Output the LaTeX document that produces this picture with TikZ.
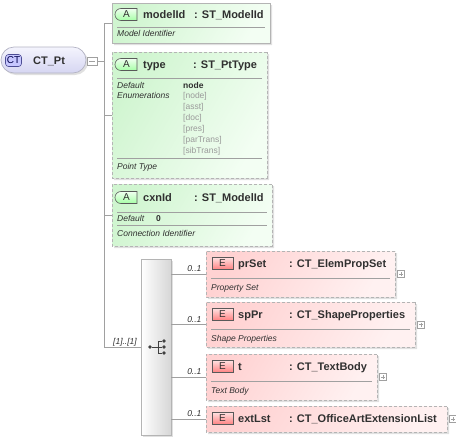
\documentclass[tikz,border=0pt]{standalone}
\usepackage{fontspec}
\setmainfont{Liberation Sans}
\usepackage{tikz}
\usetikzlibrary{calc, positioning, shapes.misc, shadows}

\definecolor{linegray}{HTML}{A0A0A0}
\definecolor{boxgray}{HTML}{B4B4B4}
\definecolor{textdark}{HTML}{303030}
\definecolor{enumgray}{HTML}{9A9A9A}
\definecolor{attrdark}{HTML}{D0F5D0}
\definecolor{attrlight}{HTML}{F3FEF3}
\definecolor{elemdark}{HTML}{FFD2D2}
\definecolor{elemlight}{HTML}{FFF1F1}
\definecolor{rootdark}{HTML}{D6D6F2}
\definecolor{rootlight}{HTML}{F4F4FD}

\newcommand{\hdfont}{\fontsize{11}{13}\selectfont\bfseries}
\newcommand{\docfont}{\fontsize{8.5}{10}\selectfont\itshape}
\newcommand{\enumfont}{\fontsize{8.5}{10}\selectfont}
\newcommand{\badgefont}{\fontsize{10}{11}\selectfont}

\tikzstyle{conn}=[draw=linegray, line width=0.7pt]
\tikzstyle{sepline}=[draw=linegray, line width=0.6pt]
\tikzstyle{shadowed}=[drop shadow={shadow xshift=2pt, shadow yshift=-2pt, fill=black, opacity=0.12}]
\tikzstyle{chambox}=[chamfered rectangle, chamfered rectangle corners={north west, south west},
  chamfered rectangle xsep=5pt, chamfered rectangle ysep=5pt, inner sep=0pt,
  draw=boxgray, line width=0.7pt, dash pattern=on 3pt off 2pt, shadowed]
\tikzstyle{attrbox}=[chambox, left color=attrdark, right color=attrlight, shading angle=60]
\tikzstyle{elembox}=[chambox, left color=elemdark, right color=elemlight, shading angle=60]
\tikzstyle{rootbox}=[rounded rectangle, draw=rootdark!60!gray, line width=0.7pt, inner sep=0pt,
  top color=rootlight, bottom color=rootdark, minimum width=85pt, minimum height=26pt, shadowed]
\tikzstyle{compbox}=[rectangle, draw=boxgray, line width=0.7pt, inner sep=0pt,
  left color=white, right color=black!16, minimum width=30pt, minimum height=176pt, shadowed]
\tikzstyle{ctbadge}=[rectangle, rounded corners=3pt, draw=black!60!blue!70, line width=0.6pt,
  fill=blue!22, text=black!70!blue, font=\badgefont, inner sep=0pt, minimum width=16pt, minimum height=12pt]
\tikzstyle{abadge}=[rounded rectangle, rounded rectangle right arc=none, draw=black!65, line width=0.6pt,
  top color=green!6, bottom color=green!35!white, text=textdark, font=\badgefont, inner sep=0pt,
  minimum width=22pt, minimum height=12pt]
\tikzstyle{ebadge}=[rectangle, draw=black!65, line width=0.6pt, top color=red!12, bottom color=red!50!white,
  text=textdark, font=\badgefont, inner sep=0pt, minimum width=21pt, minimum height=12pt]
\tikzstyle{hd}=[font=\hdfont, text=textdark, inner sep=0pt, anchor=base west]
\tikzstyle{doc}=[font=\docfont, text=textdark, inner sep=0pt, anchor=base west]
\tikzstyle{enum}=[font=\enumfont, text=enumgray, inner sep=0pt, anchor=base west]
\tikzstyle{mult}=[font=\docfont, text=textdark, inner sep=0pt, anchor=base east]
\tikzstyle{plusbox}=[rectangle, draw=linegray, fill=white, line width=0.5pt, inner sep=0pt,
  minimum size=7pt, path picture={
    \draw[linegray, line width=0.5pt] ([yshift=-1.5pt]path picture bounding box.north) -- ([yshift=1.5pt]path picture bounding box.south);
    \draw[linegray, line width=0.5pt] ([xshift=1.5pt]path picture bounding box.west) -- ([xshift=-1.5pt]path picture bounding box.east);}]
\tikzstyle{minusbox}=[rectangle, draw=linegray, fill=white, line width=0.5pt, inner sep=0pt,
  minimum width=10pt, minimum height=8pt, path picture={
    \draw[linegray, line width=0.5pt] ([xshift=2pt]path picture bounding box.west) -- ([xshift=-2pt]path picture bounding box.east);}]
\tikzstyle{seqdot}=[circle, fill=black!75, inner sep=0pt, minimum size=3.6pt]

\begin{document}
\begin{tikzpicture}[x=1pt, y=-1pt]
\useasboundingbox (0,0) rectangle (456,440);

% root element
\node[rootbox] (ctpt) at (43.5,60) {};
\node[ctbadge] (ctbadge) at (13.5,60.5) {CT};
\node[hd] (ctname) at (33,64) {CT\_Pt};
\node[minusbox] (fold) at (92,61) {};
\coordinate (spine) at (104,61);

% attributes
\node[attrbox, solid, minimum width=158pt, minimum height=40pt] (modelid) at (191,23) {};
\node[abadge] (modelidA) at (126.5,14.5) {A};
\node[hd] (modelidname) at (143,18) {modelId};
\node[hd] (modelidtype) at (194,18) {: ST\_ModelId};
\draw[sepline] (117,27) -- (265,27);
\node[doc] (modeliddoc) at (117,36) {Model Identifier};

\node[attrbox, minimum width=155pt, minimum height=126pt] (type) at (189.5,115) {};
\node[abadge] (typeA) at (126.5,64.5) {A};
\node[hd] (typename) at (143,68) {type};
\node[hd] (typetype) at (193,68) {: ST\_PtType};
\draw[sepline] (117,78) -- (262,78);
\node[doc] (typedefault) at (117,88) {Default};
\node[enum, text=textdark, font=\enumfont\bfseries] (typedefval) at (183,88) {node};
\node[doc] (typeenum) at (117,98) {Enumerations};
\foreach \v [count=\i from 0] in {node,asst,doc,pres,parTrans,sibTrans}{
\node[enum] (typeenum\i) at (183,98+11*\i) {[\v]};
}
\draw[sepline] (117,158) -- (262,158);
\node[doc] (typedoc) at (117,169) {Point Type};

\node[attrbox, minimum width=160pt, minimum height=62pt] (cxnid) at (192,215) {};
\node[abadge] (cxnidA) at (126.5,197.5) {A};
\node[hd] (cxnidname) at (143,201) {cxnId};
\node[hd] (cxnidtype) at (194,201) {: ST\_ModelId};
\draw[sepline] (117,212) -- (267,212);
\node[doc] (cxniddefault) at (117,221) {Default};
\node[enum, text=textdark, font=\enumfont\bfseries] (cxniddefval) at (156,221) {0};
\draw[sepline] (117,225) -- (267,225);
\node[doc] (cxniddoc) at (117,236) {Connection Identifier};

% sequence compositor
\node[compbox] (comp) at (156,347) {};
\node[seqdot] (sq0) at (150,347) {};
\node[seqdot] (sq1) at (164,341) {};
\node[seqdot] (sq2) at (164,347) {};
\node[seqdot] (sq3) at (164,353) {};
\coordinate (sqbar) at (158,347);
\draw[black!75, line width=0.7pt] (sq0) -- (sq2);
\draw[black!75, line width=0.7pt] (sq1 -| sqbar) -- (sq1);
\draw[black!75, line width=0.7pt] (sq3 -| sqbar) -- (sq3);
\draw[black!75, line width=0.7pt] (sq1 -| sqbar) -- (sq3 -| sqbar);

% child elements
\node[elembox, minimum width=189pt, minimum height=46pt] (prset) at (300.5,274) {};
\node[ebadge] (prsetE) at (222.5,263.5) {E};
\node[hd] (prsetname) at (238,267) {prSet};
\node[hd] (prsettype) at (289,267) {: CT\_ElemPropSet};
\draw[sepline] (211,278) -- (390,278);
\node[doc] (prsetdoc) at (211,290) {Property Set};
\node[plusbox, right=2pt of prset] (prsetplus) {};

\node[elembox, minimum width=209pt, minimum height=45pt] (sppr) at (310.5,324.5) {};
\node[ebadge] (spprE) at (222.5,314.5) {E};
\node[hd] (spprname) at (238,318) {spPr};
\node[hd] (spprtype) at (289,318) {: CT\_ShapeProperties};
\draw[sepline] (211,329) -- (410,329);
\node[doc] (spprdoc) at (211,341) {Shape Properties};
\node[plusbox, right=2pt of sppr] (spprplus) {};

\node[elembox, minimum width=171pt, minimum height=46pt] (tbody) at (291.5,377) {};
\node[ebadge] (tbodyE) at (222.5,366.5) {E};
\node[hd] (tbodyname) at (238,370) {t};
\node[hd] (tbodytype) at (289,370) {: CT\_TextBody};
\draw[sepline] (211,381) -- (372,381);
\node[doc] (tbodydoc) at (211,393) {Text Body};
\node[plusbox, right=2pt of tbody] (tbodyplus) {};

\node[elembox, minimum width=241pt, minimum height=26pt] (extlst) at (326.5,419) {};
\node[ebadge] (extlstE) at (222.5,418.5) {E};
\node[hd] (extlstname) at (238,422) {extLst};
\node[hd] (extlsttype) at (289,422) {: CT\_OfficeArtExtensionList};
\node[plusbox, right=2pt of extlst] (extlstplus) {};

% connectors
\draw[conn] (fold.east) -- (spine);
\draw[conn] (spine |- modelid.west) |- (comp.west);
\draw[conn] (spine |- modelid.west) -- (modelid.west);
\draw[conn] (spine |- type.west) -- (type.west);
\draw[conn] (spine |- cxnid.west) -- (cxnid.west);
\node[mult] (seqmult) at (137,344) {[1]..[1]};
\foreach \c in {prset,sppr,tbody,extlst}{
\draw[conn] (comp.east |- \c.west) -- (\c.west);
\node[mult] (\c mult) at ($(\c.west)+(-4,-2.5)$) {0..1};
}
\end{tikzpicture}
\end{document}
